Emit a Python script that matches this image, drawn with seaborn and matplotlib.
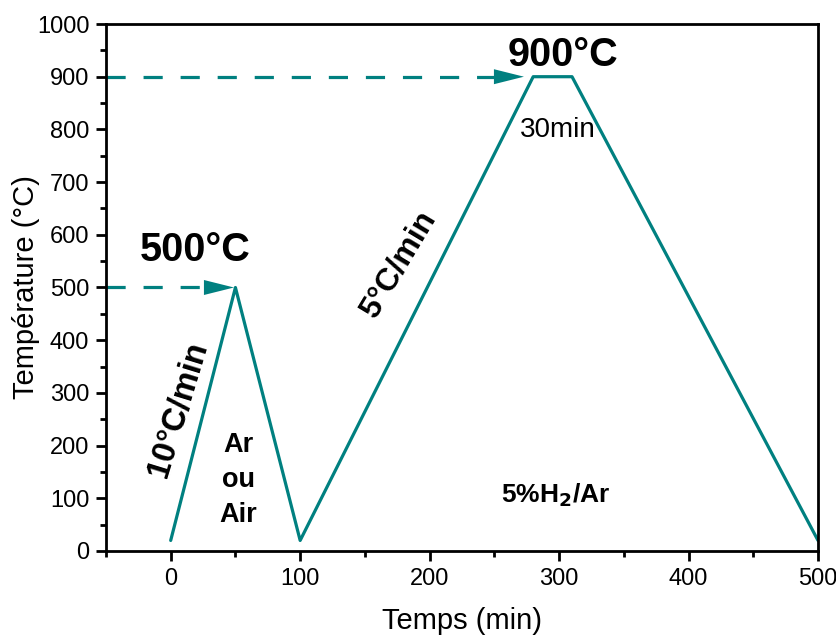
import matplotlib
matplotlib.use("Agg")
import matplotlib.pyplot as plt
import seaborn as sns
import pandas as pd
from matplotlib.ticker import MultipleLocator

sns.set_theme(style="ticks")
plt.rcParams['font.family'] = ['Liberation Sans', 'DejaVu Sans']
plt.rcParams['text.color'] = 'black'
plt.rcParams['axes.labelcolor'] = 'black'
plt.rcParams['xtick.color'] = 'black'
plt.rcParams['ytick.color'] = 'black'

time_min = [0, 50, 100, 280, 310, 500]
temperature = [20, 500, 20, 900, 900, 20]
arrow_levels = [500, 900]
arrow_ends = [51, 275]

teal = "#008080"

fig = plt.figure(figsize=(8.37, 6.35), dpi=100)
ax = fig.add_axes([0.1266, 0.1323, 0.8507, 0.8299])

df = pd.DataFrame({"t": time_min, "T": temperature})
sns.lineplot(data=df, x="t", y="T", ax=ax, color=teal, lw=2.3, sort=False)

for lvl, xe in zip(arrow_levels, arrow_ends):
    ax.plot([-50, xe - 16], [lvl, lvl], color=teal, lw=2.3, ls=(0, (6, 5.6)))
    ax.annotate("", xy=(xe, lvl), xytext=(xe - 20, lvl),
                arrowprops=dict(arrowstyle="-|>,head_length=1.8,head_width=0.45",
                                color=teal, lw=0))

ax.set_xlim(-50, 500)
ax.set_ylim(0, 1000)
ax.xaxis.set_major_locator(MultipleLocator(100))
ax.xaxis.set_minor_locator(MultipleLocator(50))
ax.yaxis.set_major_locator(MultipleLocator(100))
ax.yaxis.set_minor_locator(MultipleLocator(50))
ax.tick_params(which="major", direction="out", length=7, width=2, labelsize=17,
               top=False, right=False, pad=5)
ax.tick_params(which="minor", direction="out", length=4.5, width=2,
               top=False, right=False)
for s in ax.spines.values():
    s.set_linewidth(2)
    s.set_color("black")

ax.set_xlabel("Temps (min)", fontsize=21, labelpad=12.5)
ax.set_ylabel("Température (°C)", fontsize=21, labelpad=-2)

ax.text(19, 571, "500°C", fontsize=28.5, fontweight="bold", ha="center", va="center")
ax.text(303, 941, "900°C", fontsize=28.5, fontweight="bold", ha="center", va="center")
ax.text(299, 799, "30min", fontsize=20, ha="center", va="center")
ax.text(6, 268, "10°C/min", fontsize=23.5, fontweight="bold", ha="center", va="center",
        rotation=73)
ax.text(176, 543, "5°C/min", fontsize=23, fontweight="bold", ha="center", va="center",
        rotation=59)
ax.text(52, 135, "Ar\nou\nAir", fontsize=19.5, fontweight="bold", ha="center", va="center",
        linespacing=1.45)
ax.text(297, 106, "5%H$_\\mathbf{2}$/Ar", fontsize=19, fontweight="bold", ha="center",
        va="center")

fig.savefig("out.png", dpi=100)
